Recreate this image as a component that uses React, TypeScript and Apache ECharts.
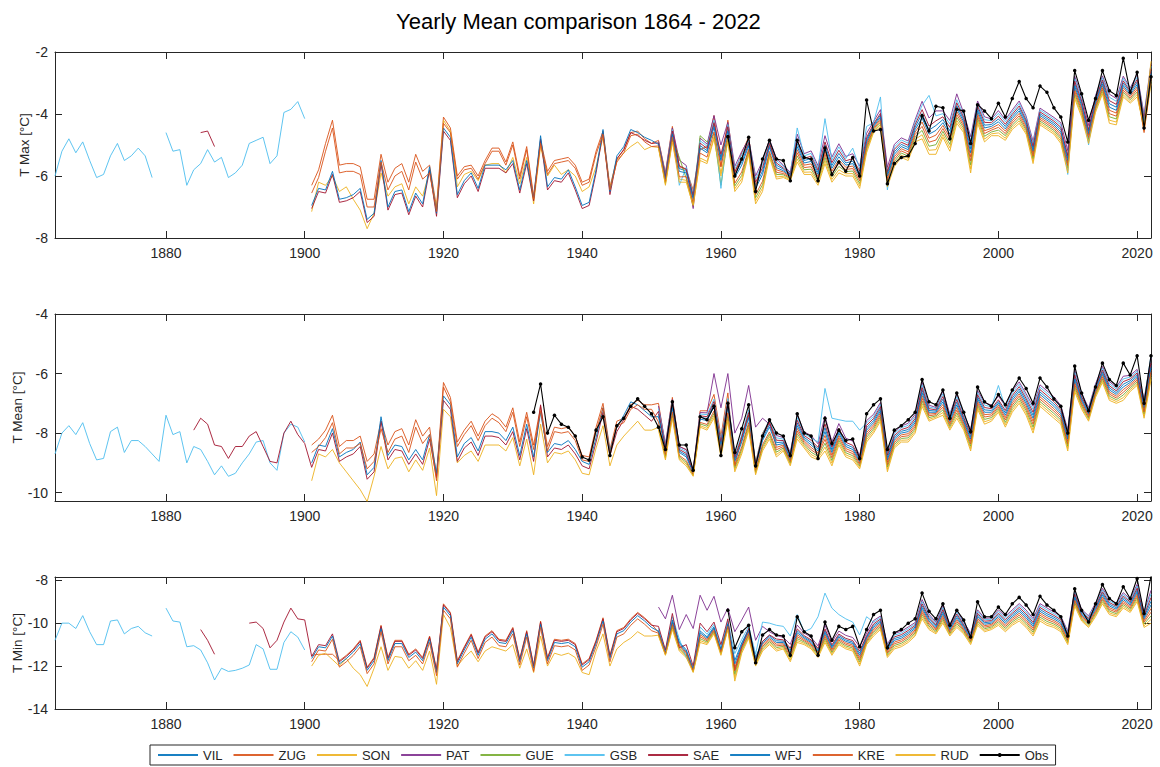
import React, { useEffect, useRef } from "react";
import * as echarts from "echarts";

const FIRST_YEAR = 1864;
const LAST_YEAR = 2022;
const years: number[] = [];
for (let y = FIRST_YEAR; y <= LAST_YEAR; y++) years.push(y);

const stations = ["VIL", "ZUG", "SON", "PAT", "GUE", "GSB", "SAE", "WFJ", "KRE", "RUD", "Obs"];
const stationColors: Record<string, string> = {
  VIL: "#0072BD", ZUG: "#D95319", SON: "#EDB120", PAT: "#7E2F8E", GUE: "#77AC30",
  GSB: "#4DBEEE", SAE: "#A2142F", WFJ: "#0072BD", KRE: "#D95319", RUD: "#EDB120", Obs: "#000000",
};

const xTicks = [1880, 1900, 1920, 1940, 1960, 1980, 2000, 2020];
const maxTicks = [-8, -6, -4, -2];
const meanTicks = [-10, -8, -6, -4];
const minTicks = [-14, -12, -10, -8];

type V = number | null;

// ---------------- T Max ----------------
const maxGSB_early: V[] = [-6.0,-5.2,-4.8,-5.25,-4.9,-5.5,-6.05,-5.95,-5.35,-4.95,-5.5,-5.35,-5.1,-5.35,-6.05,null,-4.6,-5.2,-5.15,-6.3,-5.8,-5.6,-5.15,-5.55,-5.4,-6.05,-5.9,-5.65,-4.95,-4.85,-4.75,-5.6,-5.35,-3.95,-3.85,-3.6,-4.15];
const maxSAE_early: V[] = [-4.6,-4.55,-5.05];
const maxZUG_a: V[] = [-6.3,-5.8,-4.95,-4.2,-5.65,-5.6,-5.6,-5.7,-6.75,-6.75,-5.3,-6.2,-5.75,-5.6,-6.2,-5.3,-5.85,-5.65,-7.0,-4.1,-4.45,-6.0,-5.7,-5.65,-6.0,-5.5,-5.1,-5.1,-5.55,-4.9,-6.0,-5.05,-6.65,-4.85,-5.85,-5.5,-5.45,-5.4,-5.65,-6.2,-6.1,-5.2,-4.55,-6.35,-5.45,-5.15,-4.6,-4.55,-4.8,-4.95];
const maxKRE_a: V[] = [-6.55,-6.05,-5.2,-4.45,-5.9,-5.85,-5.85,-5.95,-7.0,-7.0,-5.55,-6.45,-6.0,-5.85,-6.45,-5.55,-6.1,-5.9,-7.15,-4.3,-4.6,-6.1,-5.8,-5.75,-6.1,-5.6,-5.2,-5.2,-5.65,-5.0,-6.1,-5.15,-6.75,-4.95,-5.95,-5.6,-5.55,-5.5,-5.75,-6.3,-6.2,-5.3,-4.65,-6.45,-5.55,-5.25,-4.7,-4.65,-4.9,-5.05];
const maxSAE_a: V[] = [-7.05,-6.5,-6.55,-5.95,-6.85,-6.8,-6.7,-6.5,-7.5,-7.3,-5.6,-7.1,-6.6,-6.55,-7.25,-6.65,-7.0,-5.8,-7.3,-4.55,-4.85,-6.7,-6.25,-6.0,-6.5,-5.75,-5.75,-5.75,-5.9,-5.6,-6.55,-5.6,-6.8,-4.8,-6.45,-6.15,-6.2,-5.9,-6.45,-7.05,-6.95,-5.9,-4.6,-6.6,-5.45,-5.15,-4.6,-4.7,-4.85,-4.95];
const maxWFJ_a: V[] = [-6.95,-6.4,-6.45,-5.85,-6.75,-6.7,-6.6,-6.4,-7.4,-7.2,-5.5,-7.0,-6.5,-6.45,-7.15,-6.55,-6.9,-5.7,-7.2,-4.45,-4.75,-6.6,-6.15,-5.9,-6.4,-5.65,-5.65,-5.65,-5.8,-5.5,-6.45,-5.5,-6.7,-4.7,-6.35,-6.05,-6.1,-5.8,-6.35,-6.95,-6.85,-5.8,-4.5,-6.5,-5.35,-5.05,-4.5,-4.6,-4.75,-4.85];
const maxSON_a: V[] = [-7.15,-6.2,-6.3,-6.0,-6.5,-6.35,-6.75,-7.1,-7.7,-7.2,-5.9,-6.65,-6.35,-6.25,-6.9,-6.35,-6.65,-5.85,-7.1,-4.2,-4.55,-6.35,-5.95,-5.85,-6.15,-5.65,-5.6,-5.6,-5.9,-5.4,-6.25,-5.4,-6.9,-5.05,-6.0,-5.65,-5.95,-5.8,-6.0,-6.5,-6.35,-5.7,-4.75,-6.4,-5.5,-5.25,-5.05,-4.9,-5.15,-5.05];

const maxRUD_b: V[] = [-5.1,-6.3,-4.9,-6.2,-6.2,-6.95,-5.5,-5.6,-4.8,-6.0,-4.9,-6.5,-6.2,-5.3,-6.9,-6.5,-5.4,-6.1,-6.05,-6.15,-5.55,-5.95,-5.95,-6.3,-5.6,-6.2,-5.9,-6.0,-6.0,-6.4,-5.25,-4.6,-4.4,-6.35,-5.7,-5.4,-5.5,-4.9,-4.8,-5.3,-5.3,-4.75,-5.2,-4.3,-4.6,-5.9,-4.3,-4.9,-4.7,-4.7,-4.85,-4.5,-4.3,-4.65,-5.6,-4.35,-4.5,-4.65,-4.95,-5.9,-3.5,-4.1,-4.95,-3.95,-3.35,-4.3,-4.35,-3.45,-3.65,-3.45,-4.4,-2.3];
const maxSON_b: V[] = [-5.08,-6.26,-4.85,-6.1,-6.14,-6.99,-5.42,-5.53,-4.73,-5.9,-4.83,-6.41,-6.09,-5.25,-6.8,-6.39,-5.34,-6.03,-6.01,-6.12,-5.45,-5.88,-5.87,-6.23,-5.5,-6.11,-5.8,-5.93,-5.92,-6.32,-5.18,-4.56,-4.34,-6.28,-5.62,-5.33,-5.43,-4.82,-4.67,-5.17,-5.15,-4.66,-5.09,-4.21,-4.53,-5.77,-4.22,-4.81,-4.64,-4.61,-4.78,-4.43,-4.22,-4.59,-5.52,-4.29,-4.44,-4.59,-4.88,-5.82,-3.42,-4.03,-4.89,-3.89,-3.29,-4.2,-4.26,-3.38,-3.6,-3.37,-4.54,-3.02];
const maxGUE_b: V[] = [-5.05,-6.22,-4.8,-5.4,-6.08,-6.93,-4.7,-4.9,-4.65,-6.3,-4.76,-6.32,-5.98,-5.19,-6.7,-6.28,-5.27,-5.95,-5.96,-6.09,-5.35,-5.8,-5.78,-6.16,-5.4,-6.02,-5.69,-5.86,-5.84,-6.24,-5.11,-4.52,-4.28,-6.21,-5.54,-5.26,-5.36,-4.74,-4.53,-5.04,-4.99,-4.56,-4.98,-4.11,-4.46,-5.64,-4.14,-4.72,-4.58,-4.52,-4.7,-4.36,-4.14,-4.52,-5.44,-4.23,-4.38,-4.53,-4.8,-5.74,-3.34,-3.95,-4.82,-3.83,-3.22,-4.09,-4.16,-3.3,-3.54,-3.29,-4.47,-2.94];
const maxKRE_b: V[] = [-5.03,-6.18,-4.75,-6.03,-6.02,-6.87,-5.26,-5.39,-4.58,-5.7,-4.69,-6.23,-5.87,-5.14,-6.6,-6.17,-5.21,-5.88,-5.92,-6.06,-5.25,-5.73,-5.7,-6.09,-5.3,-5.93,-5.59,-5.79,-5.76,-6.16,-5.04,-4.48,-4.22,-6.14,-5.46,-5.19,-5.29,-4.66,-4.4,-4.91,-4.84,-4.47,-4.87,-4.02,-4.39,-5.51,-4.06,-4.63,-4.52,-4.43,-4.63,-4.29,-4.06,-4.46,-5.36,-4.17,-4.32,-4.47,-4.73,-5.66,-3.26,-3.88,-4.76,-3.77,-3.16,-3.99,-4.07,-3.23,-3.49,-3.21,-4.6,-2.86];
const maxZUG_b: V[] = [-4.85,-5.9,-4.4,-5.7,-5.8,-6.45,-5.15,-5.05,-4.05,-5.7,-4.2,-5.9,-5.25,-4.75,-6.35,-5.5,-4.85,-5.8,-5.87,-6.03,-5.15,-5.65,-5.61,-6.02,-5.2,-5.84,-5.48,-5.72,-5.68,-6.08,-4.97,-4.44,-4.16,-6.07,-5.38,-5.12,-5.22,-4.58,-4.26,-4.78,-4.68,-4.37,-4.76,-3.92,-4.32,-5.38,-3.98,-4.54,-4.46,-4.34,-4.55,-4.22,-3.98,-4.39,-5.28,-4.11,-4.26,-4.41,-4.65,-5.58,-3.18,-3.8,-4.69,-3.71,-3.09,-3.88,-3.97,-3.15,-3.43,-3.13,-4.34,-2.78];
const maxWFJ_b: V[] = [-4.98,-6.1,-4.65,-5.85,-5.9,-6.75,-5.1,-5.25,-4.43,-5.5,-4.55,-6.05,-5.65,-5.03,-6.4,-5.95,-5.08,-5.73,-5.83,-6.0,-5.05,-5.58,-5.53,-5.95,-5.1,-5.75,-5.38,-5.65,-5.6,-6.0,-4.9,-4.4,-4.1,-6.0,-5.3,-5.05,-5.15,-4.5,-4.13,-4.65,-4.53,-4.28,-4.65,-3.83,-4.25,-5.25,-3.9,-4.45,-4.4,-4.25,-4.48,-4.15,-3.9,-4.33,-5.2,-4.05,-4.2,-4.35,-4.58,-5.5,-3.1,-3.73,-4.63,-3.65,-3.03,-3.78,-3.88,-3.08,-3.38,-3.05,-4.28,-2.7];
const maxVIL_b: V[] = [-4.95,-6.06,-4.6,-5.76,-5.84,-6.69,-5.02,-5.18,-4.35,-5.4,-4.48,-5.96,-5.54,-4.97,-6.3,-5.84,-5.01,-5.65,-5.78,-5.97,-4.95,-5.5,-5.44,-5.88,-5.0,-5.66,-5.27,-5.58,-5.52,-5.92,-4.83,-4.36,-4.04,-5.93,-5.22,-4.98,-5.08,-4.42,-3.99,-4.52,-4.37,-4.18,-4.54,-3.73,-4.18,-5.12,-3.82,-4.36,-4.34,-4.16,-4.4,-4.08,-3.82,-4.26,-5.12,-3.99,-4.14,-4.29,-4.5,-5.42,-3.02,-3.65,-4.56,-3.59,-2.96,-3.67,-3.78,-3.0,-3.32,-2.97,-4.21,-2.62];
const maxSAE_b: V[] = [-4.93,-6.02,-4.55,-5.67,-5.78,-6.63,-4.94,-5.11,-4.28,-5.3,-4.41,-5.87,-5.43,-4.92,-6.2,-5.73,-4.95,-5.58,-5.74,-5.94,-4.85,-5.43,-5.36,-5.81,-4.9,-5.57,-5.17,-5.51,-5.44,-5.84,-4.76,-4.32,-3.98,-5.86,-5.14,-4.91,-5.01,-4.34,-3.86,-4.39,-4.22,-4.09,-4.43,-3.64,-4.11,-4.99,-3.74,-4.27,-4.28,-4.07,-4.33,-4.01,-3.74,-4.2,-5.04,-3.93,-4.08,-4.23,-4.43,-5.34,-2.94,-3.58,-4.5,-3.53,-2.9,-3.57,-3.69,-2.93,-3.27,-2.89,-4.15,-2.54];
const maxPAT_b: V[] = [-4.88,-5.94,-4.45,-5.49,-5.66,-7.05,-4.78,-4.97,-4.05,-5.0,-4.27,-5.69,-5.21,-4.81,-6.0,-5.51,-4.82,-5.43,-5.65,-5.88,-4.65,-5.28,-5.19,-5.67,-4.7,-5.39,-4.96,-5.37,-5.28,-5.68,-4.62,-4.24,-3.86,-5.72,-4.98,-4.77,-4.87,-4.18,-3.59,-4.13,-3.9,-3.9,-4.21,-3.35,-3.97,-4.73,-3.58,-4.09,-4.16,-3.89,-4.18,-3.87,-3.58,-4.07,-4.88,-3.81,-3.96,-4.11,-4.28,-5.18,-2.78,-3.43,-4.37,-3.41,-2.77,-3.36,-3.5,-2.78,-3.16,-2.73,-4.02,-2.38];
const maxGSB_b: V[] = [-4.9,-5.98,-4.5,-6.3,-5.72,-6.57,-4.86,-5.04,-4.2,-6.4,-4.34,-5.78,-5.32,-4.86,-6.1,-5.62,-4.88,-5.5,-5.69,-5.91,-4.45,-5.35,-5.27,-5.74,-4.15,-5.48,-5.06,-5.44,-5.1,-5.76,-4.4,-4.28,-3.45,-6.45,-5.06,-4.84,-4.94,-4.26,-3.72,-3.4,-4.06,-3.99,-4.32,-3.54,-4.04,-4.86,-3.66,-4.18,-4.22,-3.98,-4.25,-3.94,-3.66,-4.13,-4.96,-3.87,-4.02,-4.17,-4.35,-5.95,-2.86,-3.5,-5.0,-3.47,-2.83,-3.46,-3.59,-2.85,-3.21,-2.81,-4.08,-2.46];
const maxObs: V[] = [-4.73,-6.0,-5.45,-4.75,-6.5,-5.45,-4.85,-5.45,-5.5,-6.15,-4.85,-5.4,-5.45,-6.15,-5.1,-5.95,-5.55,-5.85,-5.4,-6.0,-3.55,-4.55,-4.5,-6.25,-5.6,-5.4,-5.35,-4.95,-4.05,-4.55,-3.75,-3.8,-4.8,-3.85,-3.9,-4.95,-3.7,-3.9,-4.15,-3.65,-4.1,-3.5,-2.95,-3.5,-3.8,-3.1,-3.3,-3.8,-4.1,-4.9,-2.6,-3.35,-4.2,-3.5,-2.6,-3.25,-3.4,-2.2,-3.3,-2.65,-4.45,-2.8];

// ---------------- T Mean ----------------
const meanGSB_early: V[] = [-8.7,-8.0,-7.75,-8.05,-7.65,-8.35,-8.9,-8.85,-7.95,-7.8,-8.65,-8.25,-8.25,-8.45,-8.7,-8.95,-7.4,-8.05,-7.95,-9.0,-8.45,-8.55,-8.95,-9.4,-9.1,-9.45,-9.35,-9.0,-8.7,-8.3,-8.25,-9.0,-9.25,-8.0,-7.7,-7.8,-8.3];
const meanSAE_early: V[] = [-7.9,-7.5,-7.7,-8.4,-8.45,-8.85,-8.45,-8.45,-8.1,-7.95,-8.45,-8.95,-9.0,-8.0,-7.6,-8.05,-8.35];
const meanZUG_a: V[] = [-8.4,-8.2,-7.9,-7.4,-8.45,-8.25,-8.25,-8.1,-8.95,-8.7,-7.6,-8.4,-7.95,-7.85,-8.4,-7.55,-8.1,-7.8,-9.45,-6.3,-6.8,-8.3,-7.9,-7.6,-8.1,-7.6,-7.35,-7.5,-7.8,-7.15,-8.3,-7.3,-8.4,-7.1,-8.45,-7.8,-7.85,-7.8,-8.1,-8.75,-8.8,-7.8,-7.0,-8.55,-7.6,-7.5,-7.05,-6.9,-7.05,-7.05];
const meanSAE_a: V[] = [-9.15,-8.55,-8.6,-8.0,-8.95,-8.8,-8.7,-8.45,-9.55,-9.3,-7.6,-8.9,-8.55,-8.6,-9.05,-8.7,-9.05,-8.2,-9.5,-6.9,-7.2,-8.95,-8.5,-8.3,-8.75,-8.1,-8.1,-8.15,-8.4,-7.95,-8.9,-7.85,-8.95,-7.05,-8.8,-8.5,-8.55,-8.4,-8.7,-9.1,-9.2,-8.3,-7.3,-8.75,-7.95,-7.55,-7.1,-7.2,-7.4,-7.6];
const meanSON_a: V[] = [-9.6,-8.7,-8.8,-8.55,-9.0,-9.3,-9.6,-9.9,-10.3,-9.45,-8.45,-9.2,-8.85,-8.8,-9.3,-8.9,-9.25,-8.5,-10.1,-7.2,-7.45,-9.0,-8.75,-8.6,-8.95,-8.4,-8.4,-8.4,-8.6,-8.15,-9.1,-8.2,-9.4,-7.7,-9.0,-8.65,-8.7,-8.6,-8.9,-9.35,-9.4,-8.5,-7.75,-9.1,-8.4,-8.1,-7.85,-7.6,-7.9,-7.9];
const meanKRE_a: V[] = [-8.65,-8.45,-8.15,-7.65,-8.7,-8.5,-8.5,-8.35,-9.2,-8.95,-7.85,-8.65,-8.2,-8.1,-8.65,-7.8,-8.35,-8.05,-9.6,-6.45,-6.95,-8.45,-8.05,-7.75,-8.25,-7.75,-7.5,-7.65,-7.95,-7.3,-8.45,-7.45,-8.55,-7.25,-8.6,-7.95,-8.0,-7.95,-8.25,-8.9,-8.95,-7.95,-7.15,-8.7,-7.75,-7.65,-7.2,-7.05,-7.2,-7.2];
const meanWFJ_a: V[] = [-9.0,-8.4,-8.45,-7.85,-8.8,-8.65,-8.55,-8.3,-9.4,-9.15,-7.45,-8.75,-8.4,-8.45,-8.9,-8.55,-8.9,-8.05,-9.35,-6.75,-7.05,-8.8,-8.35,-8.15,-8.6,-7.95,-7.95,-8.0,-8.25,-7.8,-8.75,-7.7,-8.8,-7.3,-8.65,-8.35,-8.4,-8.25,-8.55,-8.95,-9.05,-8.15,-7.15,-8.6,-7.8,-7.4,-6.95,-7.05,-7.25,-7.45];

const meanRUD_b: V[] = [-7.9,-8.9,-7.5,-8.9,-9.1,-9.45,-7.8,-7.9,-7.5,-8.8,-7.6,-9.3,-8.7,-7.9,-9.4,-8.6,-8.2,-8.8,-8.6,-9.1,-8.2,-8.5,-8.8,-8.9,-8.6,-9.1,-8.4,-8.8,-8.9,-9.2,-8.3,-8.0,-7.6,-9.3,-8.5,-8.3,-8.3,-8.0,-7.1,-7.6,-7.5,-7.4,-7.9,-7.5,-7.9,-8.6,-7.2,-7.7,-7.6,-7.3,-7.8,-7.3,-7.0,-7.4,-8.0,-7.1,-7.3,-7.5,-7.7,-8.6,-6.6,-7.2,-7.6,-6.8,-6.3,-6.9,-7.0,-6.9,-6.6,-6.4,-7.5,-6.2];
const meanSON_b: V[] = [-7.81,-8.84,-7.43,-8.85,-9.04,-9.43,-7.75,-7.84,-7.42,-8.73,-7.51,-9.23,-8.62,-7.82,-9.35,-8.53,-8.12,-8.72,-8.55,-9.05,-8.11,-8.44,-8.72,-8.84,-8.47,-9.01,-8.32,-8.73,-8.83,-9.15,-8.22,-7.93,-7.53,-9.22,-8.44,-8.24,-8.23,-7.93,-7.01,-7.54,-7.46,-7.31,-7.84,-7.41,-7.84,-8.52,-7.13,-7.62,-7.54,-7.24,-7.72,-7.22,-6.92,-7.32,-7.9,-7.02,-7.22,-7.42,-7.63,-8.52,-6.52,-7.14,-7.55,-6.75,-6.24,-6.83,-6.94,-6.81,-6.54,-6.34,-7.43,-6.12];
const meanGUE_b: V[] = [-7.72,-8.78,-7.36,-8.8,-8.98,-9.4,-7.69,-7.77,-7.34,-8.66,-7.41,-9.16,-8.54,-7.73,-9.3,-8.46,-8.04,-8.64,-8.5,-9.0,-8.02,-8.38,-8.64,-8.78,-8.34,-8.92,-8.24,-8.66,-8.76,-9.1,-8.14,-7.86,-7.46,-9.14,-8.38,-8.18,-8.16,-7.86,-6.92,-7.48,-7.42,-7.22,-7.78,-7.32,-7.78,-8.44,-7.06,-7.54,-7.48,-7.18,-7.64,-7.14,-6.84,-7.24,-7.8,-6.94,-7.14,-7.34,-7.56,-8.44,-6.44,-7.08,-7.5,-6.7,-6.18,-6.76,-6.88,-6.72,-6.48,-6.28,-7.36,-6.04];
const meanKRE_b: V[] = [-7.63,-8.72,-7.29,-8.75,-8.92,-9.38,-7.64,-7.71,-7.26,-8.59,-7.32,-9.09,-8.46,-7.65,-9.25,-8.39,-7.96,-8.56,-8.45,-8.95,-7.93,-8.32,-8.56,-8.72,-8.21,-8.83,-8.16,-8.59,-8.69,-9.05,-8.06,-7.79,-7.39,-9.06,-8.32,-8.12,-8.09,-7.79,-6.83,-7.42,-7.38,-7.13,-7.72,-7.23,-7.72,-8.36,-6.99,-7.46,-7.42,-7.12,-7.56,-7.06,-6.76,-7.16,-7.7,-6.86,-7.06,-7.26,-7.49,-8.36,-6.36,-7.02,-7.45,-6.65,-6.12,-6.69,-6.82,-6.63,-6.42,-6.22,-7.29,-5.96];
const meanZUG_b: V[] = [-7.0,-8.45,-6.8,-8.45,-8.55,-9.25,-7.25,-7.25,-6.7,-8.1,-6.65,-9.1,-8.1,-7.4,-9.0,-8.0,-7.6,-8.48,-8.4,-8.9,-7.84,-8.26,-8.48,-8.66,-8.08,-8.74,-8.08,-8.52,-8.62,-9.0,-7.98,-7.72,-7.32,-8.98,-8.26,-8.06,-8.02,-7.72,-6.74,-7.36,-7.34,-7.04,-7.66,-7.14,-7.66,-8.28,-6.92,-7.38,-7.36,-7.06,-7.48,-6.98,-6.68,-7.08,-7.6,-6.78,-6.98,-7.18,-7.42,-8.28,-6.28,-6.96,-7.4,-6.6,-6.06,-6.62,-6.76,-6.54,-6.36,-6.16,-7.22,-5.88];
const meanWFJ_b: V[] = [-7.45,-8.6,-7.15,-8.65,-8.8,-9.33,-7.53,-7.58,-7.1,-8.45,-7.13,-8.95,-8.3,-7.48,-9.15,-8.25,-7.8,-8.4,-8.35,-8.85,-7.75,-8.2,-8.4,-8.6,-7.95,-8.65,-8.0,-8.45,-8.55,-8.95,-7.9,-7.65,-7.25,-8.9,-8.2,-8.0,-7.95,-7.65,-6.65,-7.3,-7.3,-6.95,-7.6,-7.05,-7.6,-8.2,-6.85,-7.3,-7.3,-7.0,-7.4,-6.9,-6.6,-7.0,-7.5,-6.7,-6.9,-7.1,-7.35,-8.2,-6.2,-6.9,-7.35,-6.55,-6.0,-6.55,-6.7,-6.45,-6.3,-6.1,-7.15,-5.8];
const meanVIL_b: V[] = [-7.36,-8.54,-7.08,-8.6,-8.74,-9.3,-7.47,-7.51,-7.02,-8.38,-7.03,-8.88,-8.22,-7.39,-9.1,-8.18,-7.72,-8.32,-8.3,-8.8,-7.66,-8.14,-8.32,-8.54,-7.82,-8.56,-7.92,-8.38,-8.48,-8.9,-7.82,-7.58,-7.18,-8.82,-8.14,-7.94,-7.88,-7.58,-6.56,-7.24,-7.26,-6.86,-7.54,-6.96,-7.54,-8.12,-6.78,-7.22,-7.24,-6.94,-7.32,-6.82,-6.52,-6.92,-7.4,-6.62,-6.82,-7.02,-7.28,-8.12,-6.12,-6.84,-7.3,-6.5,-5.94,-6.48,-6.64,-6.36,-6.24,-6.04,-7.08,-5.72];
const meanSAE_b: V[] = [-7.27,-8.48,-7.01,-8.55,-8.68,-9.28,-7.42,-7.45,-6.94,-8.31,-6.94,-8.81,-8.14,-7.31,-9.05,-8.11,-7.64,-8.24,-8.25,-8.75,-7.57,-8.08,-8.24,-8.48,-7.69,-8.47,-7.84,-8.31,-8.41,-8.85,-7.74,-7.51,-7.11,-8.74,-8.08,-7.88,-7.81,-7.51,-6.47,-7.18,-7.22,-6.77,-7.48,-6.87,-7.48,-8.04,-6.71,-7.14,-7.18,-6.88,-7.24,-6.74,-6.44,-6.84,-7.3,-6.54,-6.74,-6.94,-7.21,-8.04,-6.04,-6.78,-7.25,-6.45,-5.88,-6.41,-6.58,-6.27,-6.18,-5.98,-7.01,-5.64];
const meanPAT_b: V[] = [-7.09,-8.36,-6.87,-8.45,-8.56,-9.23,-7.31,-7.32,-6.0,-7.15,-6.0,-8.0,-7.5,-6.4,-7.8,-7.5,-7.7,-8.08,-8.15,-8.65,-7.39,-7.96,-8.08,-8.36,-7.43,-8.29,-7.68,-8.17,-8.27,-8.75,-7.58,-7.37,-6.97,-8.58,-7.96,-7.76,-7.67,-7.37,-6.29,-7.06,-7.14,-6.59,-7.36,-6.69,-7.36,-7.88,-6.57,-6.98,-7.06,-6.76,-7.08,-6.58,-6.28,-6.68,-7.1,-6.38,-6.58,-6.78,-7.07,-7.88,-5.88,-6.66,-7.15,-6.35,-5.76,-6.27,-6.46,-6.09,-6.06,-5.86,-6.87,-5.48];
const meanGSB_b: V[] = [-7.18,-8.42,-6.94,-8.5,-8.62,-9.25,-7.36,-7.38,-6.86,-8.24,-6.84,-8.74,-8.06,-7.22,-9.0,-8.04,-7.56,-8.16,-8.2,-8.7,-7.48,-8.02,-8.16,-8.3,-6.5,-7.5,-7.55,-7.6,-7.6,-7.9,-7.66,-7.44,-7.04,-8.66,-8.02,-7.82,-7.74,-7.44,-6.38,-7.12,-7.18,-6.68,-7.42,-6.78,-7.42,-7.96,-6.64,-7.06,-7.12,-6.4,-7.16,-6.66,-6.36,-6.76,-7.2,-6.46,-6.66,-6.86,-7.14,-7.96,-5.96,-6.72,-7.2,-6.4,-5.82,-6.34,-6.52,-6.18,-6.12,-5.92,-6.94,-5.4];
const meanObs: V[] = [-7.3,-6.35,-8.0,-7.4,-7.7,-7.8,-8.1,-8.8,-8.9,-7.9,-7.45,-8.75,-7.75,-7.5,-7.1,-6.85,-7.1,-7.35,-7.8,-8.55,-6.95,-8.4,-8.4,-9.25,-7.45,-7.55,-7.1,-8.75,-7.0,-8.65,-7.85,-7.05,-9.1,-8.1,-7.55,-8.0,-8.1,-8.75,-7.35,-8.0,-8.1,-8.85,-7.5,-8.35,-7.9,-8.25,-8.2,-8.85,-7.35,-7.05,-6.85,-8.55,-7.9,-7.75,-7.55,-7.3,-6.2,-6.95,-7.05,-6.55,-7.5,-6.65,-7.3,-7.95,-6.45,-6.95,-7.1,-6.7,-7.05,-6.55,-6.15,-6.5,-7.0,-6.15,-6.45,-6.85,-7.1,-8.0,-5.75,-6.65,-7.25,-6.45,-5.65,-6.2,-6.4,-5.65,-6.05,-5.4,-7.0,-5.4];

// ---------------- T Min ----------------
const minGSB_early: V[] = [-10.8,-10.0,-10.0,-10.25,-9.65,-10.4,-11.0,-11.0,-9.9,-9.85,-10.5,-10.25,-10.15,-10.45,-10.6,null,-9.3,-9.9,-9.95,-11.1,-11.05,-11.25,-11.85,-12.65,-12.1,-12.25,-12.2,-12.1,-11.95,-11.0,-11.2,-12.15,-12.15,-10.9,-10.4,-10.65,-11.25];
const minSAE_early1: V[] = [-10.3,-10.8,-11.45];
const minSAE_early2: V[] = [-10.0,-9.95,-10.25,-11.15,-10.8,-9.95,-9.3,-9.8,-9.85];
const minSAE_a: V[] = [-11.55,-11.0,-11.05,-10.5,-11.8,-11.55,-11.25,-10.85,-12.1,-11.65,-10.15,-11.65,-10.85,-10.85,-11.5,-11.25,-11.65,-10.65,-12.2,-9.15,-9.55,-11.8,-11.15,-10.55,-11.4,-10.65,-10.4,-10.8,-10.85,-10.25,-11.7,-10.4,-12.0,-9.95,-11.65,-10.8,-10.85,-10.8,-11.0,-11.95,-11.7,-10.85,-9.8,-11.55,-10.4,-10.25,-9.85,-9.55,-9.8,-10.1];
const minSON_a: V[] = [-12.0,-11.5,-11.4,-11.7,-12.0,-11.65,-12.1,-12.4,-12.95,-12.1,-11.1,-12.2,-11.55,-11.6,-12.1,-11.75,-12.2,-11.3,-12.85,-9.6,-10.2,-12.0,-11.6,-11.3,-11.8,-11.3,-11.1,-11.2,-11.3,-11.0,-12.1,-11.2,-12.3,-10.6,-12.0,-11.4,-11.5,-11.4,-11.6,-12.3,-12.4,-11.3,-10.5,-12.0,-11.2,-10.9,-10.7,-10.4,-10.6,-10.6];
const minZUG_a: V[] = [-11.5,-11.45,-11.45,-11.45,-11.75,-11.5,-11.2,-10.8,-12.05,-11.6,-10.1,-11.6,-10.8,-10.8,-11.45,-11.2,-11.6,-10.6,-12.15,-9.1,-9.5,-11.75,-11.1,-10.5,-11.35,-10.6,-10.35,-10.75,-10.8,-10.2,-11.65,-10.35,-11.95,-9.9,-11.6,-10.75,-10.8,-10.75,-10.95,-11.9,-11.65,-10.8,-9.75,-11.5,-10.35,-10.2,-9.8,-9.5,-9.75,-10.05];
const minKRE_a: V[] = [-11.8,-11.25,-11.3,-10.75,-12.05,-11.8,-11.5,-11.1,-12.35,-11.9,-10.4,-11.9,-11.1,-11.1,-11.75,-11.5,-11.9,-10.9,-12.45,-9.4,-9.8,-12.05,-11.4,-10.8,-11.65,-10.9,-10.65,-11.05,-11.1,-10.5,-11.95,-10.65,-12.25,-10.2,-11.9,-11.05,-11.1,-11.05,-11.25,-12.2,-11.95,-11.1,-10.05,-11.8,-10.65,-10.5,-10.1,-9.8,-10.05,-10.35];
const minWFJ_a: V[] = [-11.65,-11.1,-11.15,-10.6,-11.9,-11.65,-11.35,-10.95,-12.2,-11.75,-10.25,-11.75,-10.95,-10.95,-11.6,-11.35,-11.75,-10.75,-12.3,-9.25,-9.65,-11.9,-11.25,-10.65,-11.5,-10.75,-10.5,-10.9,-10.95,-10.35,-11.8,-10.5,-12.1,-10.05,-11.75,-10.9,-10.95,-10.9,-11.1,-12.05,-11.8,-10.95,-9.9,-11.65,-10.5,-10.35,-9.95,-9.65,-9.9,-10.2];

const minRUD_b: V[] = [-10.6,-11.5,-10.3,-11.3,-11.6,-12.3,-10.9,-11.0,-10.5,-11.5,-10.3,-12.7,-11.4,-10.7,-12.0,-11.3,-11.0,-11.3,-11.2,-11.8,-10.9,-11.0,-11.2,-11.6,-10.9,-11.5,-11.0,-11.2,-11.3,-12.0,-11.0,-10.6,-10.3,-11.6,-11.2,-11.1,-10.9,-10.6,-9.8,-10.3,-10.5,-10.0,-10.6,-10.2,-10.5,-11.0,-10.1,-10.4,-10.3,-10.1,-10.4,-10.1,-9.9,-10.2,-10.6,-9.9,-10.1,-10.2,-10.4,-11.0,-9.2,-9.9,-10.2,-9.7,-9.1,-9.6,-9.7,-9.3,-9.5,-9.0,-10.2,-10.0];
const minSON_b: V[] = [-10.56,-11.48,-10.23,-11.23,-11.54,-12.27,-10.81,-10.94,-10.45,-11.45,-10.25,-12.54,-11.32,-10.63,-11.93,-11.23,-10.93,-11.22,-11.14,-11.71,-10.81,-10.94,-11.14,-11.54,-10.81,-11.43,-10.93,-11.13,-11.23,-11.9,-10.94,-10.52,-10.23,-11.53,-11.12,-11.02,-10.82,-10.53,-9.7,-10.22,-10.44,-9.91,-10.54,-10.11,-10.44,-10.94,-10.02,-10.33,-10.24,-10.02,-10.32,-10.02,-9.81,-10.11,-10.51,-9.81,-10.01,-10.12,-10.32,-10.93,-9.12,-9.84,-10.14,-9.63,-9.02,-9.52,-9.63,-9.22,-9.43,-8.91,-10.12,-9.83];
const minGUE_b: V[] = [-10.51,-11.45,-10.15,-11.16,-11.48,-12.24,-10.72,-10.88,-10.39,-11.4,-10.2,-12.38,-11.24,-10.56,-11.86,-11.15,-10.86,-11.14,-11.08,-11.62,-10.72,-10.88,-11.08,-11.48,-10.72,-11.36,-10.86,-11.06,-11.16,-11.8,-10.88,-10.44,-10.16,-11.46,-11.04,-10.94,-10.74,-10.46,-9.6,-10.14,-10.38,-9.82,-10.48,-10.02,-10.38,-10.88,-9.94,-10.26,-10.18,-9.94,-10.24,-9.94,-9.72,-10.02,-10.42,-9.72,-9.92,-10.04,-10.24,-10.86,-9.04,-9.78,-10.08,-9.56,-8.94,-9.44,-9.56,-9.14,-9.36,-8.82,-10.04,-9.66];
const minKRE_b: V[] = [-10.47,-11.43,-10.08,-11.09,-11.42,-12.21,-10.63,-10.82,-10.34,-11.35,-10.15,-12.22,-11.16,-10.49,-11.79,-11.08,-10.79,-11.06,-11.02,-11.53,-10.63,-10.82,-11.02,-11.42,-10.63,-11.29,-10.79,-10.99,-11.09,-11.7,-10.82,-10.36,-10.09,-11.39,-10.96,-10.86,-10.66,-10.39,-9.5,-10.06,-10.32,-9.73,-10.42,-9.93,-10.32,-10.82,-9.86,-10.19,-10.12,-9.86,-10.16,-9.86,-9.63,-9.93,-10.33,-9.63,-9.83,-9.96,-10.16,-10.79,-8.96,-9.72,-10.02,-9.49,-8.86,-9.36,-9.49,-9.06,-9.29,-8.73,-9.96,-9.49];
const minZUG_b: V[] = [-10.42,-11.4,-10.0,-11.02,-11.36,-12.18,-10.54,-10.76,-10.28,-11.3,-10.1,-12.06,-11.08,-10.42,-11.72,-11.0,-10.72,-10.98,-10.96,-11.44,-10.54,-10.76,-10.96,-11.36,-10.54,-11.22,-10.72,-10.92,-11.02,-11.6,-10.76,-10.28,-10.02,-11.32,-10.88,-10.78,-10.58,-10.32,-9.4,-9.98,-10.26,-9.64,-10.36,-9.84,-10.26,-10.76,-9.78,-10.12,-10.06,-9.78,-10.08,-9.78,-9.54,-9.84,-10.24,-9.54,-9.74,-9.88,-10.08,-10.72,-8.88,-9.66,-9.96,-9.42,-8.78,-9.28,-9.42,-8.98,-9.22,-8.64,-9.88,-9.32];
const minWFJ_b: V[] = [-10.38,-11.38,-9.93,-10.95,-11.3,-12.15,-10.45,-10.7,-10.23,-11.25,-10.05,-11.9,-11.0,-10.35,-11.65,-10.93,-10.65,-10.9,-10.9,-11.35,-10.45,-10.7,-10.9,-11.3,-10.45,-11.15,-10.65,-10.85,-10.95,-11.5,-10.7,-10.2,-9.95,-11.25,-10.8,-10.7,-10.5,-10.25,-9.3,-9.9,-10.2,-9.55,-10.3,-9.75,-10.2,-10.7,-9.7,-10.05,-10.0,-9.7,-10.0,-9.7,-9.45,-9.75,-10.15,-9.45,-9.65,-9.8,-10.0,-10.65,-8.8,-9.6,-9.9,-9.35,-8.7,-9.2,-9.35,-8.9,-9.15,-8.55,-9.8,-9.15];
const minVIL_b: V[] = [-10.33,-11.35,-9.85,-10.88,-11.24,-12.12,-10.36,-10.64,-10.17,-11.2,-10.0,-11.74,-10.92,-10.28,-11.58,-10.85,-10.58,-10.82,-10.84,-11.26,-10.36,-10.64,-10.84,-11.24,-10.36,-11.08,-10.58,-10.78,-10.88,-11.4,-10.64,-10.12,-9.88,-11.18,-10.72,-10.62,-10.42,-10.18,-9.2,-9.82,-10.14,-9.46,-10.24,-9.66,-10.14,-10.64,-9.62,-9.98,-9.94,-9.62,-9.92,-9.62,-9.36,-9.66,-10.06,-9.36,-9.56,-9.72,-9.92,-10.58,-8.72,-9.54,-9.84,-9.28,-8.62,-9.12,-9.28,-8.82,-9.08,-8.46,-9.72,-8.98];
const minSAE_b: V[] = [-10.15,-11.25,-9.55,-11.15,-11.0,-12.0,-10.0,-10.4,-9.95,-11.0,-9.8,-12.2,-11.1,-10.25,-11.7,-10.85,-10.55,-10.74,-10.78,-11.17,-10.27,-10.58,-10.78,-11.18,-10.27,-11.01,-10.51,-10.71,-10.81,-11.3,-10.58,-10.04,-9.81,-11.11,-10.64,-10.54,-10.34,-10.11,-9.1,-9.74,-10.08,-9.37,-10.18,-9.57,-10.08,-10.58,-9.54,-9.91,-9.88,-9.54,-9.84,-9.54,-9.27,-9.57,-9.97,-9.27,-9.47,-9.64,-9.84,-10.51,-8.64,-9.48,-9.78,-9.21,-8.54,-9.04,-9.21,-8.74,-9.01,-8.37,-9.64,-8.81];
const minPAT_b: V[] = [-9.25,-9.8,-8.7,-10.3,-9.6,-10.25,-8.7,-9.4,-8.75,-9.95,-9.3,-10.4,-9.85,-9.25,-10.8,-10.15,-10.4,-10.58,-10.66,-10.99,-10.09,-10.46,-10.66,-11.06,-10.09,-10.87,-10.37,-10.57,-10.67,-11.1,-10.46,-9.88,-9.67,-10.97,-10.48,-10.38,-10.18,-9.97,-8.9,-9.58,-9.96,-9.19,-10.06,-9.39,-9.96,-10.46,-9.38,-9.77,-9.76,-9.38,-9.68,-9.38,-9.09,-9.39,-9.79,-9.09,-9.29,-9.48,-9.68,-10.37,-8.48,-9.36,-9.66,-9.07,-8.38,-8.88,-9.07,-8.58,-8.87,-8.19,-9.48,-8.47];
const minGSB_b: V[] = [-10.24,-11.3,-9.7,-10.74,-11.6,-12.1,-10.18,-10.52,-10.06,-11.1,-9.9,-11.42,-10.76,-10.14,-11.44,-9.95,-10.0,-10.1,-10.15,-10.6,-9.6,-10.4,-10.25,-9.7,-8.6,-9.3,-9.6,-9.8,-9.95,-10.55,-9.7,-9.96,-9.74,-11.04,-10.56,-10.46,-10.26,-10.04,-9.0,-9.66,-10.02,-9.28,-10.12,-9.48,-10.02,-10.52,-9.46,-9.84,-9.82,-9.46,-9.76,-9.46,-9.18,-9.48,-9.88,-9.18,-9.38,-9.56,-9.76,-10.44,-8.56,-9.42,-9.72,-9.14,-8.46,-8.96,-9.14,-8.66,-8.94,-8.28,-9.56,-8.64];
const minObs: V[] = [-9.4,-11.15,-10.4,-10.1,-11.85,-10.55,-10.3,-10.55,-10.6,-11.5,-9.7,-10.4,-10.6,-11.5,-9.95,-10.8,-10.15,-10.3,-10.15,-11.1,-10.3,-9.6,-9.4,-11.15,-10.45,-10.3,-10.0,-9.8,-8.6,-9.45,-9.8,-9.1,-10.1,-9.4,-9.85,-10.65,-9.0,-9.7,-9.7,-9.25,-9.6,-9.1,-8.8,-9.15,-9.6,-8.75,-9.15,-9.4,-9.7,-10.6,-8.4,-9.4,-9.95,-9.1,-8.2,-8.85,-9.1,-8.3,-8.85,-7.92,-9.55,-7.8];

// Place pieces (start year + values) onto the full year axis
function place(parts: [number, V[]][]): V[] {
  const out: V[] = years.map(() => null);
  for (const [start, vals] of parts) {
    vals.forEach((v, i) => {
      const idx = start - FIRST_YEAR + i;
      if (idx >= 0 && idx < out.length) out[idx] = v;
    });
  }
  return out;
}

const panels = [
  {
    label: "T Max [°C]", min: -8, max: -2, ticks: maxTicks, top: 52, height: 186, nameGap: 24,
    data: {
      VIL: place([[1951, maxVIL_b]]),
      ZUG: place([[1901, maxZUG_a], [1951, maxZUG_b]]),
      SON: place([[1901, maxSON_a], [1951, maxSON_b]]),
      PAT: place([[1951, maxPAT_b]]),
      GUE: place([[1951, maxGUE_b]]),
      GSB: place([[1864, maxGSB_early], [1951, maxGSB_b]]),
      SAE: place([[1885, maxSAE_early], [1901, maxSAE_a], [1951, maxSAE_b]]),
      WFJ: place([[1901, maxWFJ_a], [1951, maxWFJ_b]]),
      KRE: place([[1901, maxKRE_a], [1951, maxKRE_b]]),
      RUD: place([[1951, maxRUD_b]]),
      Obs: place([[1961, maxObs]]),
    } as Record<string, V[]>,
  },
  {
    label: "T Mean [°C]", min: -10.28, max: -4, ticks: meanTicks, top: 314, height: 187, nameGap: 31,
    data: {
      VIL: place([[1951, meanVIL_b]]),
      ZUG: place([[1901, meanZUG_a], [1951, meanZUG_b]]),
      SON: place([[1901, meanSON_a], [1951, meanSON_b]]),
      PAT: place([[1951, meanPAT_b]]),
      GUE: place([[1951, meanGUE_b]]),
      GSB: place([[1864, meanGSB_early], [1951, meanGSB_b]]),
      SAE: place([[1884, meanSAE_early], [1901, meanSAE_a], [1951, meanSAE_b]]),
      WFJ: place([[1901, meanWFJ_a], [1951, meanWFJ_b]]),
      KRE: place([[1901, meanKRE_a], [1951, meanKRE_b]]),
      RUD: place([[1951, meanRUD_b]]),
      Obs: place([[1933, meanObs]]),
    } as Record<string, V[]>,
  },
  {
    label: "T Min [°C]", min: -14, max: -7.85, ticks: minTicks, top: 577, height: 132, nameGap: 31,
    data: {
      VIL: place([[1951, minVIL_b]]),
      ZUG: place([[1901, minZUG_a], [1951, minZUG_b]]),
      SON: place([[1901, minSON_a], [1951, minSON_b]]),
      PAT: place([[1951, minPAT_b]]),
      GUE: place([[1951, minGUE_b]]),
      GSB: place([[1864, minGSB_early], [1951, minGSB_b]]),
      SAE: place([[1885, minSAE_early1], [1892, minSAE_early2], [1901, minSAE_a], [1951, minSAE_b]]),
      WFJ: place([[1901, minWFJ_a], [1951, minWFJ_b]]),
      KRE: place([[1901, minKRE_a], [1951, minKRE_b]]),
      RUD: place([[1951, minRUD_b]]),
      Obs: place([[1961, minObs]]),
    } as Record<string, V[]>,
  },
];

const FONT = "'Liberation Sans', Arial, Helvetica, sans-serif";
const AX = "#262626";

export default function App() {
  const ref = useRef<HTMLDivElement>(null);
  useEffect(() => {
    if (!ref.current) return;
    const chart = echarts.init(ref.current, null, { renderer: "svg" });

    const grids: any[] = [];
    const xAxes: any[] = [];
    const yAxes: any[] = [];
    const series: any[] = [];

    panels.forEach((p, i) => {
      grids.push({ left: 55, right: 9, top: p.top, height: p.height, containLabel: false });
      const xBase = {
        type: "value", gridIndex: i, min: FIRST_YEAR, max: LAST_YEAR,
        axisLine: { show: true, onZero: false, lineStyle: { color: AX, width: 1 } },
        axisTick: { show: true, inside: true, length: 7, customValues: xTicks, lineStyle: { color: AX, width: 1 } },
        splitLine: { show: false },
      };
      xAxes.push({ ...xBase, position: "bottom",
        axisLabel: { show: true, customValues: xTicks, formatter: (v: number) => String(v),
          color: AX, fontSize: 14, margin: 8, fontFamily: FONT } });
      xAxes.push({ ...xBase, position: "top", axisLabel: { show: false } });
      const yBase = {
        type: "value", gridIndex: i, min: p.min, max: p.max,
        axisLine: { show: true, onZero: false, lineStyle: { color: AX, width: 1 } },
        axisTick: { show: true, inside: true, length: 7, customValues: p.ticks, lineStyle: { color: AX, width: 1 } },
        splitLine: { show: false },
      };
      yAxes.push({ ...yBase, position: "left",
        name: p.label, nameLocation: "middle", nameGap: p.nameGap, nameMoveOverlap: false,
        nameTextStyle: { color: AX, fontSize: 13.5, fontFamily: FONT },
        axisLabel: { show: true, customValues: p.ticks, formatter: (v: number) => String(v),
          color: AX, fontSize: 14, margin: 7, fontFamily: FONT } });
      yAxes.push({ ...yBase, position: "right", axisLabel: { show: false } });

      stations.forEach((s) => {
        const arr = p.data[s];
        const isObs = s === "Obs";
        series.push({
          type: "line", name: s, xAxisIndex: i * 2, yAxisIndex: i * 2,
          data: years.map((y, k) => [y, arr[k]]),
          symbol: isObs ? "circle" : "none", symbolSize: isObs ? 3.5 : 0, showSymbol: isObs,
          lineStyle: { width: isObs ? 1.1 : 1, color: stationColors[s], opacity: isObs ? 1 : 0.9 },
          itemStyle: { color: stationColors[s] },
          connectNulls: false, silent: true, animation: false,
          emphasis: { disabled: true },
        });
      });
    });

    chart.setOption({
      animation: false,
      backgroundColor: "#ffffff",
      title: {
        text: "Yearly Mean comparison 1864 - 2022", left: 391, top: 5,
        textStyle: { fontSize: 22, fontWeight: "normal", color: "#000", fontFamily: FONT },
      },
      legend: {
        data: stations.map((s) => s === "Obs"
          ? { name: s, itemStyle: { color: "#000", opacity: 1 } }
          : { name: s, itemStyle: { opacity: 0 } }),
        left: 150, top: 745, orient: "horizontal",
        itemWidth: 40, itemHeight: 5, itemGap: 10,
        padding: [3, 7, 3, 7],
        borderColor: AX, borderWidth: 1, backgroundColor: "#fff",
        textStyle: { fontSize: 13, color: AX, fontFamily: FONT, lineHeight: 14 },
        selectedMode: false,
      },
      grid: grids, xAxis: xAxes, yAxis: yAxes, series,
    });
    return () => chart.dispose();
  }, []);

  return (
    <div
      ref={ref}
      style={{ position: "fixed", left: 0, top: 0, width: 1160, height: 767, background: "#fff" }}
    />
  );
}
